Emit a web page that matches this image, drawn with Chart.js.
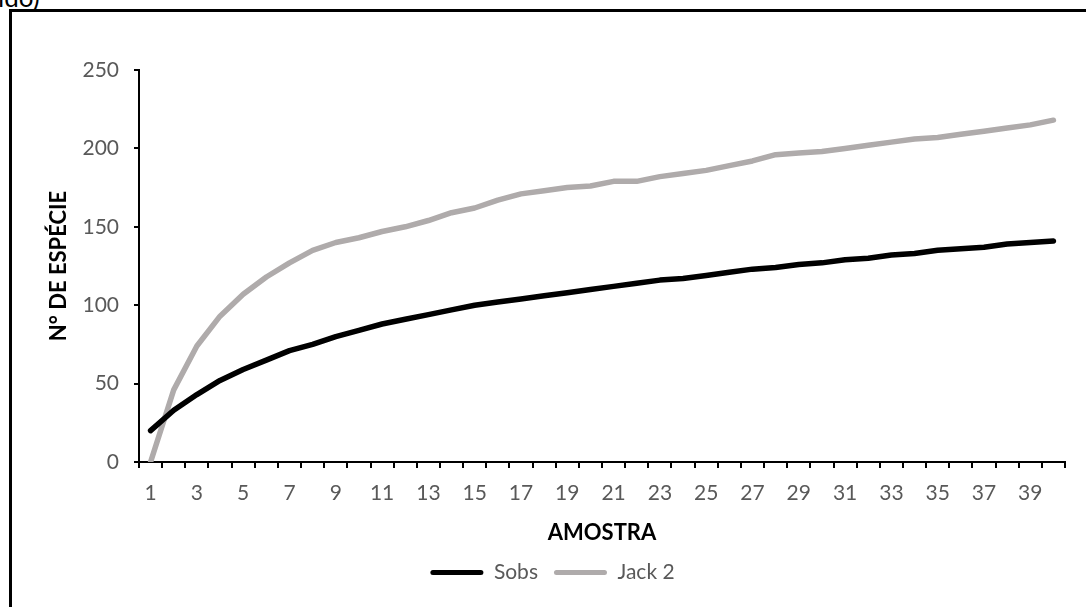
<!DOCTYPE html>
<html>
<head>
<meta charset="utf-8">
<script src="https://cdn.jsdelivr.net/npm/chart.js@4.4.1/dist/chart.umd.min.js"></script>
<style>
  html, body { margin: 0; padding: 0; width: 1086px; height: 607px; overflow: hidden; background: #fff; }
  #frame { position: absolute; left: 9px; top: 9px; width: 1200px; height: 700px; border: 3px solid #000; box-sizing: border-box; }
  #caption { position: absolute; left: -2px; top: -16px; font: 26px/26px Lato, sans-serif; color: #000; white-space: nowrap; }
  #wrap { position: absolute; left: 0; top: 0; width: 1114px; height: 607px; }
</style>
</head>
<body>
<div id="frame"></div>
<div id="caption">ido)</div>
<div id="wrap"><canvas id="c" width="1114" height="607"></canvas></div>
<script>
// Species accumulation: observed richness (Sobs) and Jackknife 2 estimate per sample
const samples = [1, 2, 3, 4, 5, 6, 7, 8, 9, 10, 11, 12, 13, 14, 15, 16, 17, 18, 19, 20,
                 21, 22, 23, 24, 25, 26, 27, 28, 29, 30, 31, 32, 33, 34, 35, 36, 37, 38, 39, 40];

const sobs = [20, 33, 43, 52, 59, 65, 71, 75, 80, 84, 88, 91, 94, 97, 100, 102, 104, 106, 108, 110,
              112, 114, 116, 117, 119, 121, 123, 124, 126, 127, 129, 130, 132, 133, 135, 136, 137, 139, 140, 141];

const jack2 = [0, 46, 74, 93, 107, 118, 127, 135, 140, 143, 147, 150, 154, 159, 162, 167, 171, 173, 175, 176,
               179, 179, 182, 184, 186, 189, 192, 196, 197, 198, 200, 202, 204, 206, 207, 209, 211, 213, 215, 218];

const yTicks = { min: 0, max: 250, step: 50 };

const tickFont = { family: 'Lato', size: 21 };
const titleFont = { family: 'Lato', size: 22, weight: 'bold' };

function draw() {
  const ctx = document.getElementById('c').getContext('2d');
  new Chart(ctx, {
    type: 'line',
    data: {
      labels: samples,
      datasets: [
        {
          label: 'Sobs', data: sobs,
          borderColor: '#000000', backgroundColor: '#000000',
          borderWidth: 5.5, pointRadius: 0, tension: 0,
          borderCapStyle: 'round', borderJoinStyle: 'round'
        },
        {
          label: 'Jack 2', data: jack2,
          borderColor: '#AFABAB', backgroundColor: '#AFABAB',
          borderWidth: 5.5, pointRadius: 0, tension: 0,
          borderCapStyle: 'round', borderJoinStyle: 'round'
        }
      ]
    },
    options: {
      responsive: false,
      animation: false,
      layout: { padding: { left: 40, top: 70, right: 49, bottom: 14 } },
      plugins: {
        tooltip: { enabled: false },
        legend: {
          position: 'bottom',
          labels: {
            boxWidth: 53, boxHeight: 5, padding: 16,
            color: '#595959', font: tickFont,
            useBorderRadius: true, borderRadius: 2.5,
            generateLabels: (chart) =>
              Chart.defaults.plugins.legend.labels.generateLabels(chart).map(item => {
                const ds = chart.data.datasets[item.datasetIndex];
                return Object.assign(item, { fillStyle: ds.borderColor, strokeStyle: ds.borderColor, lineWidth: 0 });
              })
          }
        }
      },
      scales: {
        x: {
          offset: true,
          grid: { offset: true, drawOnChartArea: false, tickLength: 6, color: '#000', lineWidth: 2 },
          border: { color: '#000', width: 2 },
          ticks: {
            autoSkip: false, maxRotation: 0, minRotation: 0, padding: 13,
            color: '#595959', font: tickFont,
            callback: (v, i) => (i % 2 === 0 ? String(samples[i]) : '')
          },
          title: { display: true, text: 'AMOSTRA', color: '#000', font: titleFont, padding: { top: 0, bottom: 0 } },
          afterFit: (s) => { s.height = 84; }
        },
        y: {
          min: yTicks.min, max: yTicks.max,
          grid: { drawOnChartArea: false, tickLength: 5, color: '#000', lineWidth: 2 },
          border: { color: '#000', width: 2 },
          ticks: { stepSize: yTicks.step, padding: 15, color: '#595959', font: tickFont },
          title: { display: true, text: 'N° DE ESPÉCIE', color: '#000', font: titleFont, padding: { top: 6, bottom: 0 } },
          afterFit: (s) => { s.width = 99; }
        }
      }
    }
  });
}

if (document.fonts && document.fonts.load) {
  Promise.all([document.fonts.load('21px Lato'), document.fonts.load('bold 22px Lato')]).then(draw, draw);
} else {
  draw();
}
</script>
</body>
</html>
